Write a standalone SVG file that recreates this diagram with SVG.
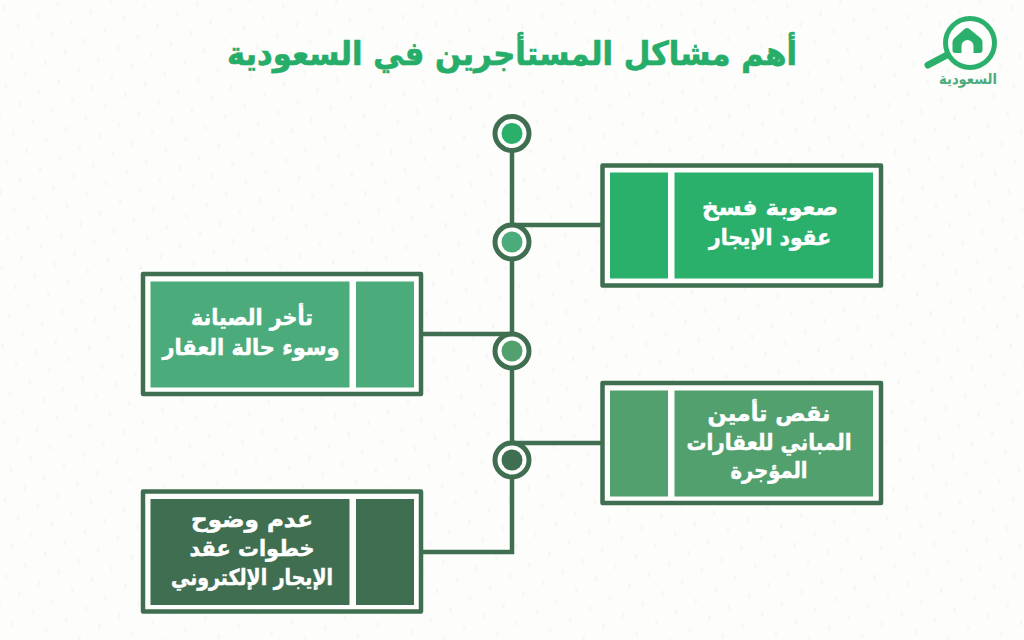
<svg xmlns="http://www.w3.org/2000/svg" width="1024" height="640" viewBox="0 0 1024 640">
<style>
.bg{fill:#fdfdfb}
.frame{fill:#fefefd;stroke:#3f6e50;stroke-width:4.5;stroke-linejoin:round}
.conn{fill:none;stroke:#3f6e50;stroke-width:4.5}
.ring{fill:#fefefd;stroke:#3f6e50;stroke-width:5}
text{font-family:"DejaVu Sans",sans-serif;font-weight:700;text-anchor:middle;direction:rtl}
.label{fill:#fff;stroke:#fff;stroke-width:.5;font-size:22px}
.title{fill:#27ad6a;stroke:#27ad6a;stroke-width:.7;font-size:33px}
.c1{fill:#2bb06c}.c2{fill:#4cab7b}.c3{fill:#52a06e}.c4{fill:#3f6e50}
</style>
<defs>
<pattern id="dots" width="34" height="30" patternUnits="userSpaceOnUse" patternTransform="rotate(12)">
<path d="M6 5l1 5M23 20l1 5" stroke="#f6f7f3" stroke-width="2" fill="none"/>
</pattern>
</defs>
<rect class="bg" width="1024" height="640"/>
<rect width="1024" height="640" fill="url(#dots)"/>
<text id="title" class="title" x="512" y="65" textLength="570" lengthAdjust="spacingAndGlyphs">أهم مشاكل المستأجرين في السعودية</text>
<g id="logo">
<circle cx="970" cy="43" r="24.500" fill="#fefefd" stroke="#2bb06c" stroke-width="5"/>
<path d="M947 55L928 65" stroke="#2bb06c" stroke-width="7" stroke-linecap="round" fill="none"/>
<path fill-rule="evenodd" d="M964.500 29q2.500-2 5 0l11 9q2 2 2 4v8q0 3-3 3h-6v-7a6 6 0 0 0-12 0v7h-6q-3 0-3-3v-8q0-2 2-4z" fill="#2bb06c"/>
<text x="968" y="84" font-size="15" fill="#4cab7b" textLength="58" lengthAdjust="spacingAndGlyphs">السعودية</text>
</g>
<g id="connectors">
<path class="conn" d="M512 133V552H423"/>
<path class="conn" d="M512 225H601"/>
<path class="conn" d="M423 334H512"/>
<path class="conn" d="M512 443H601"/>
</g>
<g id="dot-0"><circle class="ring" cx="512" cy="133.500" r="17"/><circle class="c1" cx="512" cy="133.500" r="10.500"/></g>
<g id="dot-1"><circle class="ring" cx="512" cy="242" r="17"/><circle class="c2" cx="512" cy="242" r="10.500"/></g>
<g id="dot-2"><circle class="ring" cx="512" cy="351" r="17"/><circle class="c3" cx="512" cy="351" r="10.500"/></g>
<g id="dot-3"><circle class="ring" cx="512" cy="460" r="17"/><circle class="c4" cx="512" cy="460" r="10.500"/></g>
<g id="card-1">
<rect class="frame" x="602.500" y="165.500" width="278.500" height="120"/>
<rect class="c1" x="610" y="172.500" width="58" height="106"/>
<rect class="c1" x="674.500" y="172.500" width="198.500" height="106"/>
<text class="label" x="770" y="215" textLength="136" lengthAdjust="spacingAndGlyphs">صعوبة فسخ</text>
<text class="label" x="770" y="245" textLength="122" lengthAdjust="spacingAndGlyphs">عقود الإيجار</text>
</g>
<g id="card-2">
<rect class="frame" x="143" y="274" width="278" height="120"/>
<rect class="c2" x="150.500" y="281.500" width="199" height="106"/>
<rect class="c2" x="356" y="281.500" width="58" height="106"/>
<text class="label" x="252" y="325" textLength="122" lengthAdjust="spacingAndGlyphs">تأخر الصيانة</text>
<text class="label" x="251" y="355" textLength="177" lengthAdjust="spacingAndGlyphs">وسوء حالة العقار</text>
</g>
<g id="card-3">
<rect class="frame" x="602.500" y="383" width="278.500" height="120"/>
<rect class="c3" x="610" y="390.500" width="58" height="106"/>
<rect class="c3" x="674.500" y="390.500" width="198.500" height="106"/>
<text class="label" x="769" y="421" textLength="123" lengthAdjust="spacingAndGlyphs">نقص تأمين</text>
<text class="label" x="769" y="450" textLength="165" lengthAdjust="spacingAndGlyphs">المباني للعقارات</text>
<text class="label" x="769" y="478" textLength="77" lengthAdjust="spacingAndGlyphs">المؤجرة</text>
</g>
<g id="card-4">
<rect class="frame" x="143" y="491.500" width="278" height="120"/>
<rect class="c4" x="150.500" y="499" width="199" height="106"/>
<rect class="c4" x="356" y="499" width="58" height="106"/>
<text class="label" x="252" y="527" textLength="122" lengthAdjust="spacingAndGlyphs">عدم وضوح</text>
<text class="label" x="252" y="556" textLength="125" lengthAdjust="spacingAndGlyphs">خطوات عقد</text>
<text class="label" x="252" y="585" textLength="162" lengthAdjust="spacingAndGlyphs">الإيجار الإلكتروني</text>
</g>
</svg>
